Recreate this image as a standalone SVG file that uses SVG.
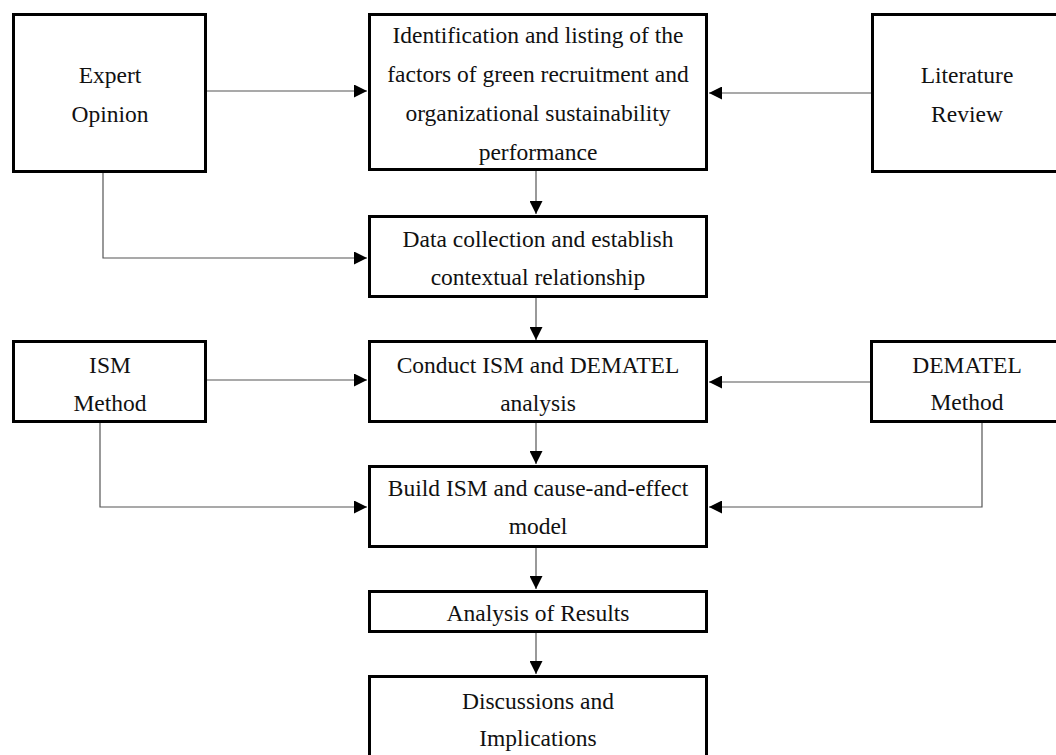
<svg xmlns="http://www.w3.org/2000/svg" width="1056" height="755" viewBox="0 0 1056 755">
<style>
.box{fill:#fff;stroke:#000;stroke-width:3}
.t{font-family:"Liberation Serif","Times New Roman",serif;font-size:23.5px;fill:#111;text-anchor:middle}
.c{fill:none;stroke:#555;stroke-width:1.2}
</style>
<defs>
<marker id="ah" markerUnits="userSpaceOnUse" markerWidth="13" markerHeight="13" refX="13" refY="6.5" orient="auto">
<path d="M0,0 L13,6.5 L0,13 z" fill="#000"/>
</marker>
</defs>
<rect width="1056" height="755" fill="#fff"/>
<g id="connectors">
<line class="c" x1="207" y1="91" x2="367" y2="91" marker-end="url(#ah)"/>
<line class="c" x1="871" y1="93" x2="709" y2="93" marker-end="url(#ah)"/>
<line class="c" x1="536" y1="171" x2="536" y2="214" marker-end="url(#ah)"/>
<polyline class="c" points="103,173 103,258 367,258" marker-end="url(#ah)"/>
<line class="c" x1="536" y1="298" x2="536" y2="340" marker-end="url(#ah)"/>
<line class="c" x1="207" y1="380" x2="367" y2="380" marker-end="url(#ah)"/>
<line class="c" x1="870" y1="382" x2="709" y2="382" marker-end="url(#ah)"/>
<line class="c" x1="536" y1="423" x2="536" y2="464" marker-end="url(#ah)"/>
<polyline class="c" points="100,423 100,507 367,507" marker-end="url(#ah)"/>
<polyline class="c" points="982,423 982,507 709,507" marker-end="url(#ah)"/>
<line class="c" x1="536" y1="548" x2="536" y2="589" marker-end="url(#ah)"/>
<line class="c" x1="536" y1="633" x2="536" y2="674" marker-end="url(#ah)"/>
</g>
<g id="expert">
<rect class="box" x="13.5" y="14.5" width="192" height="157"/>
<text class="t" x="110" y="83">Expert</text>
<text class="t" x="110" y="122">Opinion</text>
</g>
<g id="identification">
<rect class="box" x="369.5" y="14.5" width="337" height="155"/>
<text class="t" x="538" y="43">Identification and listing of the</text>
<text class="t" x="538" y="82">factors of green recruitment and</text>
<text class="t" x="538" y="121">organizational sustainability</text>
<text class="t" x="538" y="160">performance</text>
</g>
<g id="literature">
<rect class="box" x="872.5" y="14.5" width="200" height="157"/>
<text class="t" x="967" y="83">Literature</text>
<text class="t" x="967" y="122">Review</text>
</g>
<g id="data">
<rect class="box" x="369.5" y="216.5" width="337" height="80"/>
<text class="t" x="538" y="247">Data collection and establish</text>
<text class="t" x="538" y="285">contextual relationship</text>
</g>
<g id="ism">
<rect class="box" x="13.5" y="341.5" width="192" height="80"/>
<text class="t" x="110" y="373">ISM</text>
<text class="t" x="110" y="411">Method</text>
</g>
<g id="conduct">
<rect class="box" x="369.5" y="341.5" width="337" height="80"/>
<text class="t" x="538" y="373">Conduct ISM and DEMATEL</text>
<text class="t" x="538" y="411">analysis</text>
</g>
<g id="dematel">
<rect class="box" x="871.5" y="341.5" width="200" height="80"/>
<text class="t" x="967" y="373">DEMATEL</text>
<text class="t" x="967" y="410">Method</text>
</g>
<g id="build">
<rect class="box" x="369.5" y="466.5" width="337" height="80"/>
<text class="t" x="538" y="496">Build ISM and cause-and-effect</text>
<text class="t" x="538" y="534">model</text>
</g>
<g id="analysis">
<rect class="box" x="369.5" y="591.5" width="337" height="40"/>
<text class="t" x="538" y="621">Analysis of Results</text>
</g>
<g id="discussions">
<rect class="box" x="369.5" y="676.5" width="337" height="100"/>
<text class="t" x="538" y="709">Discussions and</text>
<text class="t" x="538" y="746">Implications</text>
</g>
</svg>
